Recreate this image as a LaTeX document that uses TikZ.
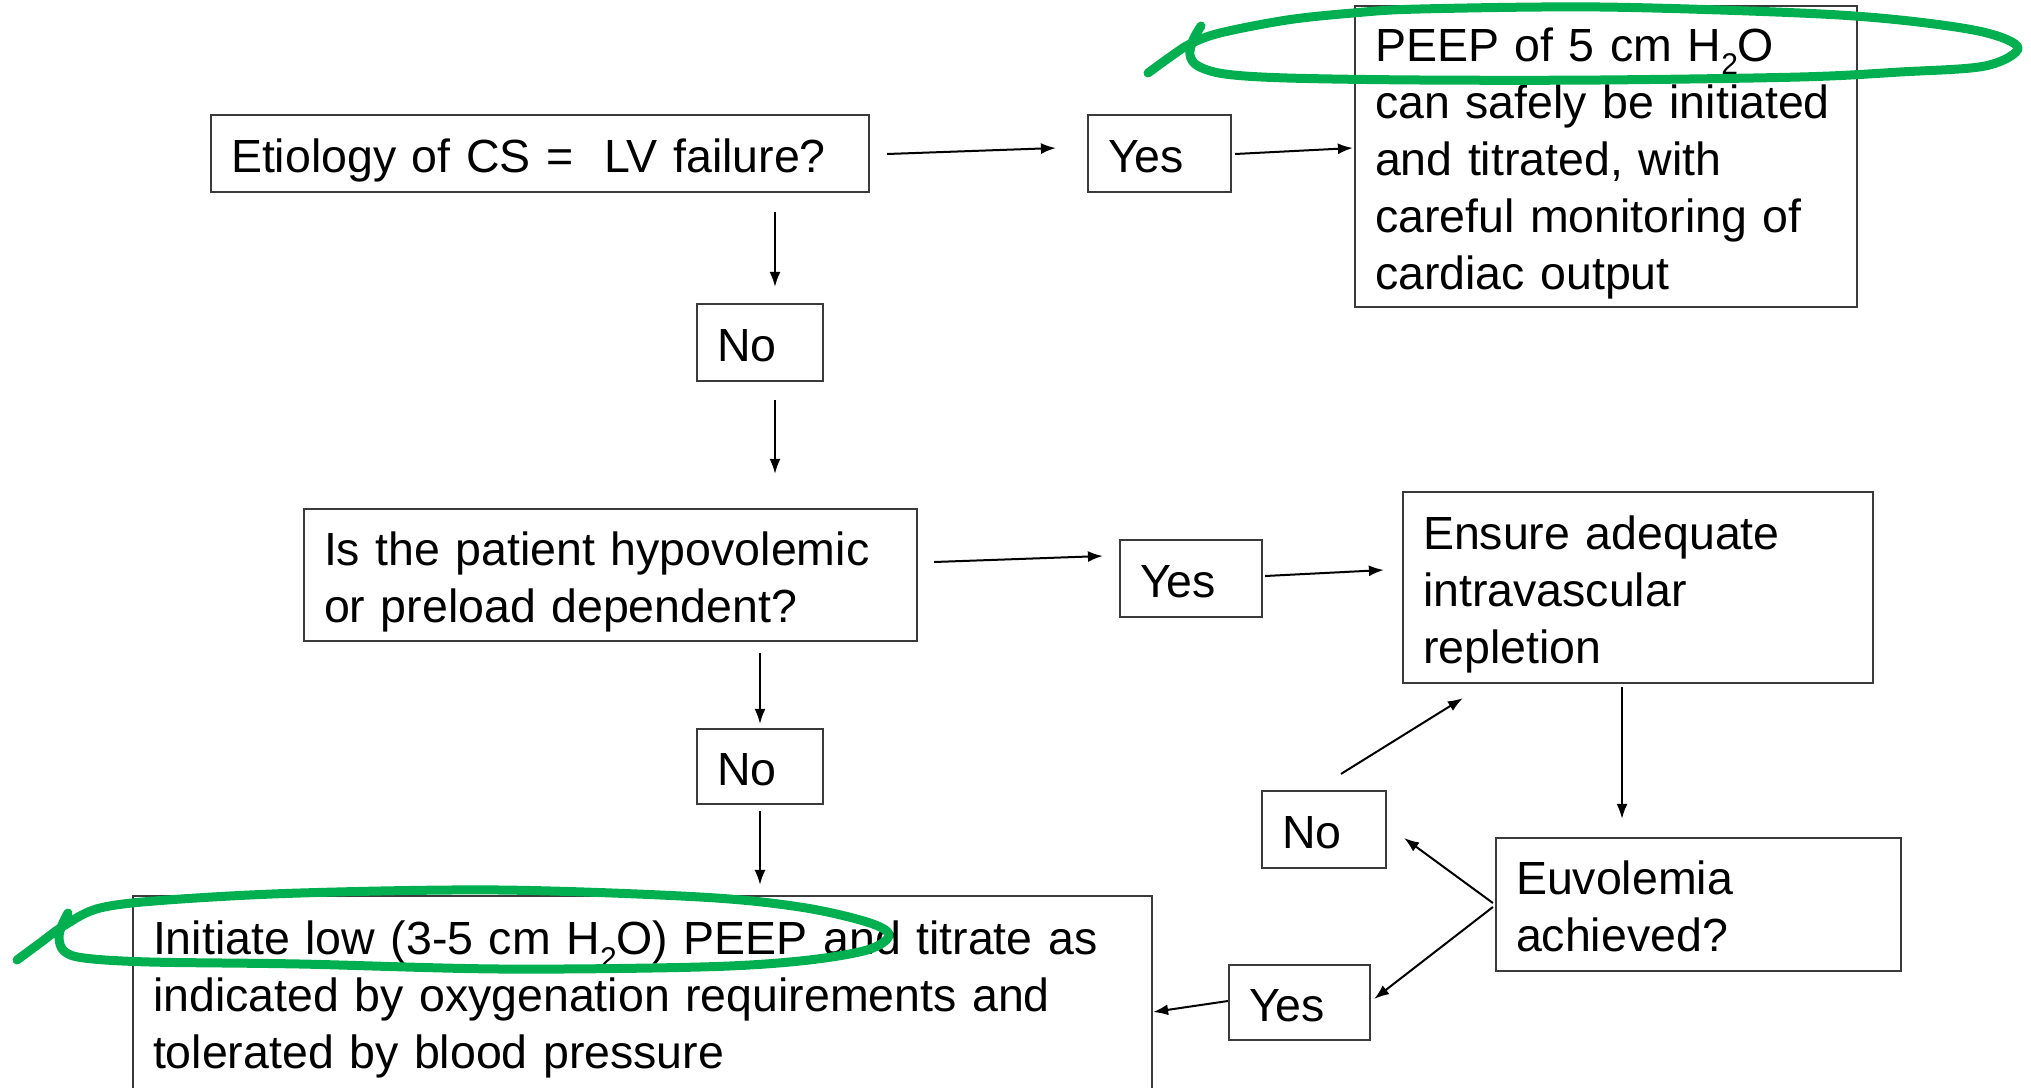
\documentclass[tikz,border=0pt]{standalone}
\usepackage{fontspec}
\setmainfont{Liberation Sans}
\usetikzlibrary{arrows.meta,calc}
\definecolor{boxline}{HTML}{3A3A3A}
\definecolor{penmark}{HTML}{00B050}
% lowered subscript two for H2O
\newcommand\subtwo{\raisebox{-0.3em}{\fontsize{30}{30}\selectfont 2}}
\begin{document}
\begin{tikzpicture}[x=1pt,y=-1pt,
  flow/.style={draw=boxline, line width=2.2pt, align=left, inner xsep=20pt,
    inner ysep=0pt, font=\fontsize{46.5}{57}\selectfont,
    execute at begin node={\rule{0pt}{50pt}},
    execute at end node={\rule[-13pt]{0pt}{13pt}}},
  arr/.style={-{Latex[length=15pt,width=11pt]}, line width=2pt, black},
  pen/.style={draw=penmark, line width=9pt, line cap=round, line join=round}]
\useasboundingbox (0,0) rectangle (2031,1087);
\clip (0,0) rectangle (2031,1087);

% decision boxes and answers
\node[flow, text width=618pt, minimum height=77pt] (etio) at (540,153.5) {Etiology of CS = \ LV failure?};
\node[flow, text width=103pt, minimum height=77pt] (yes1) at (1159.5,153.5) {Yes};
\node[flow, text width=462pt, minimum height=301pt] (peep) at (1606,156.5)
  {PEEP of 5 cm H\subtwo O\\can safely be initiated\\and titrated, with\\careful monitoring of\\cardiac output};
\node[flow, text width=86pt, minimum height=77pt] (no1) at (760,342.5) {No};
\node[flow, text width=573pt, minimum height=132pt] (hypo) at (610.5,575)
  {Is the patient hypovolemic\\or preload dependent?};
\node[flow, text width=102pt, minimum height=77pt] (yes2) at (1191,578.5) {Yes};
\node[flow, text width=430pt, minimum height=191pt] (ensure) at (1638,587.5)
  {Ensure adequate\\intravascular\\repletion};
\node[flow, text width=86pt, minimum height=75pt] (no2) at (760,766.5) {No};
\node[flow, text width=979pt, minimum height=194pt] (init) at (642.5,993)
  {Initiate low (3-5 cm H\subtwo O) PEEP and titrate as\\indicated by oxygenation requirements and\\tolerated by blood pressure};
\node[flow, text width=365pt, minimum height=133pt] (euv) at (1698.5,904.5)
  {Euvolemia\\achieved?};
\node[flow, text width=84pt, minimum height=77pt] (no3) at (1324,829.5) {No};
\node[flow, text width=101pt, minimum height=75pt] (yes3) at (1299.5,1002.5) {Yes};

% connectors
\draw[arr] ($(etio.east)+(17,0.5)$) -- ($(yes1.west)+(-31,-5.5)$);
\draw[arr] ($(yes1.east)+(3,0.5)$) -- ($(peep.west)+(-1,-8.5)$);
\draw[arr] ($(etio.south)+(235,19)$) -- ($(no1.north)+(15,-16)$);
\draw[arr] ($(no1.south)+(15,18)$) -- ($(hypo.north)+(164.5,-34)$);
\draw[arr] ($(hypo.east)+(16,-13)$) -- ($(yes2.west)+(-16,-22.5)$);
\draw[arr] ($(yes2.east)+(2,-2.5)$) -- ($(ensure.west)+(-18,-17.5)$);
\draw[arr] ($(hypo.south)+(149.5,11)$) -- ($(no2.north)+(0,-4)$);
\draw[arr] ($(no2.south)+(0,6)$) -- ($(init.north)+(117.5,-10)$);
\draw[arr] ($(ensure.south)+(-16,3)$) -- ($(euv.north)+(-76.5,-18)$);
\draw[arr] ($(euv.west)+(-2,-1.5)$) -- ($(no3.east)+(17,8.5)$);
\draw[arr] ($(euv.west)+(-2,2.5)$) -- ($(yes3.east)+(3,-3.5)$);
\draw[arr] ($(no3.north)+(17,-16)$) -- ($(ensure.south west)+(61,14)$);
\draw[arr] ($(yes3.west)+(0,-1.5)$) -- ($(init.east)+(0,19)$);

% hand-drawn green loops
\draw[pen] plot[smooth, tension=0.55] coordinates {
  (1148,73) (1170,57) (1190,44) (1220,33) (1287,20) (1353,13) (1420,9)
  (1600,7) (1800,13) (1900,20) (1983,32) (2018,48) (1985,66) (1900,72)
  (1800,77) (1600,80) (1420,80) (1287,78) (1225,74) (1198,66) (1190,55)
  (1193,40) (1201,26)};
\draw[pen] plot[smooth, tension=0.55] coordinates {
  (17,960) (40,943) (65,925) (100,908) (167,900) (300,893) (500,890)
  (700,897) (800,907) (867,922) (889,935) (867,950) (800,961) (700,967)
  (500,969) (300,964) (150,962) (84,958) (64,951) (59,938) (62,925) (68,913)};
\end{tikzpicture}
\end{document}
